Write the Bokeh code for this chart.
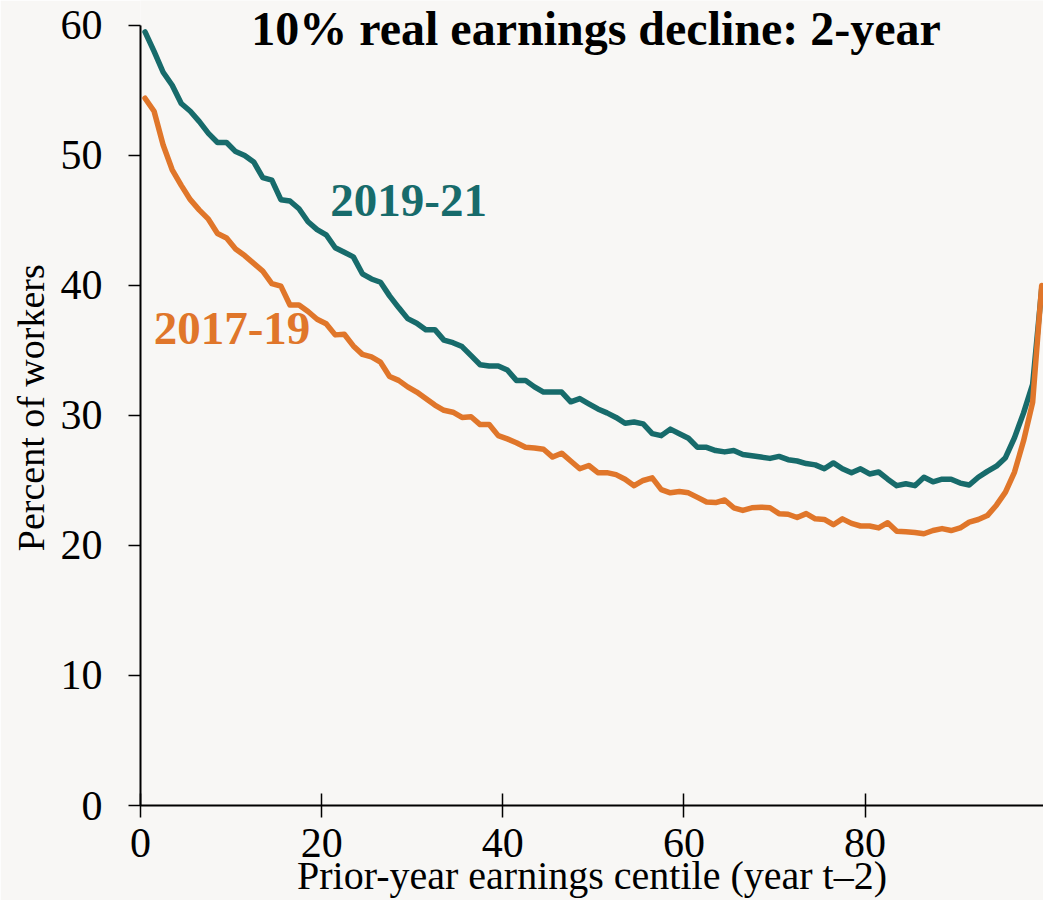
from bokeh.plotting import figure
from bokeh.models import Range1d, FixedTicker, Label
from bokeh.embed import file_html
from bokeh.resources import INLINE

# ---- data ----
centile_index = list(range(1, 101))
centiles = [c - 0.5 for c in centile_index]

series_2019_21 = [59.5, 58.0, 56.4, 55.4, 54.0, 53.4, 52.6, 51.7, 51.0, 51.0,
                  50.3, 50.0, 49.5, 48.3, 48.1, 46.6, 46.5, 45.9, 44.9, 44.3,
                  43.9, 42.9, 42.55, 42.2, 40.9, 40.5, 40.25, 39.2, 38.3, 37.45,
                  37.1, 36.6, 36.6, 35.8, 35.6, 35.3, 34.6, 33.9, 33.8, 33.8,
                  33.5, 32.7, 32.7, 32.2, 31.8, 31.8, 31.8, 31.05, 31.3, 30.9,
                  30.5, 30.2, 29.85, 29.4, 29.5, 29.35, 28.6, 28.45, 28.95, 28.6,
                  28.25, 27.55, 27.55, 27.3, 27.2, 27.3, 27.0, 26.9, 26.8, 26.7,
                  26.85, 26.6, 26.5, 26.3, 26.2, 25.9, 26.35, 25.9, 25.6, 25.9,
                  25.5, 25.65, 25.1, 24.6, 24.75, 24.6, 25.25, 24.9, 25.1, 25.1,
                  24.8, 24.65, 25.25, 25.7, 26.1, 26.75, 28.3, 30.2, 32.4, 39.75]

series_2017_19 = [54.4, 53.4, 50.8, 48.9, 47.7, 46.6, 45.8, 45.1, 44.0, 43.65,
                  42.8, 42.3, 41.7, 41.1, 40.15, 39.95, 38.5, 38.5, 38.0, 37.4,
                  37.05, 36.2, 36.25, 35.35, 34.7, 34.5, 34.1, 33.0, 32.7, 32.2,
                  31.8, 31.3, 30.8, 30.4, 30.25, 29.85, 29.9, 29.3, 29.3, 28.45,
                  28.2, 27.9, 27.55, 27.5, 27.4, 26.8, 27.1, 26.5, 25.9, 26.15,
                  25.6, 25.6, 25.45, 25.1, 24.6, 25.0, 25.2, 24.3, 24.05, 24.15,
                  24.05, 23.7, 23.35, 23.3, 23.5, 22.9, 22.7, 22.9, 22.95, 22.9,
                  22.45, 22.4, 22.15, 22.45, 22.05, 22.0, 21.6, 22.05, 21.7, 21.5,
                  21.5, 21.35, 21.75, 21.1, 21.05, 21.0, 20.9, 21.15, 21.3, 21.15,
                  21.35, 21.8, 22.0, 22.3, 23.1, 24.1, 25.65, 28.05, 31.0, 40.0]

x_ticks = [0, 20, 40, 60, 80]
y_ticks = [0, 10, 20, 30, 40, 50, 60]

title_text = "10% real earnings decline: 2-year"
x_label_text = "Prior-year earnings centile (year t\u20132)"
y_label_text = "Percent of  workers"
label_2019 = "2019-21"
label_2017 = "2017-19"

TEAL = "#176b6b"
ORANGE = "#e0762a"
BG = "#f8f7f5"
FONT = "Liberation Serif"

# frame spans the full top of the canvas so the title (inside the frame) is not clipped;
# 808 px of frame for 0..61.92 keeps 13.05 px per percentage point
p = figure(width=1043, height=900, output_backend="svg", toolbar_location=None,
           x_range=Range1d(0, 99.7), y_range=Range1d(0, 61.92),
           min_border_left=140, min_border_right=0, min_border_top=0,
           min_border_bottom=92)
p.background_fill_color = BG
p.border_fill_color = BG
p.outline_line_color = None
p.grid.visible = False

p.line(centiles, series_2019_21, line_color=TEAL, line_width=5.5,
       line_cap="round", line_join="round")
p.line(centiles, series_2017_19, line_color=ORANGE, line_width=5.5,
       line_cap="round", line_join="round")

for ax in (p.xaxis[0], p.yaxis[0]):
    ax.axis_line_color = "black"
    ax.axis_line_width = 2
    ax.major_tick_line_color = "black"
    ax.major_tick_line_width = 1.5
    ax.minor_tick_line_color = None
    ax.major_label_text_font = FONT
    ax.major_label_text_font_size = "42px"
    ax.major_label_text_color = "black"
    ax.axis_label_text_font = FONT
    ax.axis_label_text_font_style = "normal"
    ax.axis_label_text_color = "black"

p.xaxis[0].ticker = FixedTicker(ticks=x_ticks)
p.xaxis[0].major_tick_in = 12
p.xaxis[0].major_tick_out = 12
p.xaxis[0].major_label_standoff = 11
p.xaxis[0].axis_label = x_label_text
p.xaxis[0].axis_label_text_font_size = "40px"
p.xaxis[0].axis_label_standoff = -7

p.yaxis[0].ticker = FixedTicker(ticks=y_ticks)
p.yaxis[0].bounds = (0, 60)
p.yaxis[0].major_tick_in = 0
p.yaxis[0].major_tick_out = 12
p.yaxis[0].major_label_standoff = 26
p.yaxis[0].axis_label = y_label_text
p.yaxis[0].axis_label_text_font_size = "38px"
p.yaxis[0].axis_label_standoff = 6

p.add_layout(Label(x=50.3, y=59.8, text=title_text, text_font=FONT,
                   text_font_size="48px", text_font_style="bold",
                   text_color="black", text_align="center",
                   text_baseline="alphabetic"))
p.add_layout(Label(x=29.6, y=46.5, text=label_2019, text_font=FONT,
                   text_font_size="47px", text_font_style="bold",
                   text_color=TEAL, text_align="center",
                   text_baseline="alphabetic"))
p.add_layout(Label(x=10.1, y=36.7, text=label_2017, text_font=FONT,
                   text_font_size="47px", text_font_style="bold",
                   text_color=ORANGE, text_align="center",
                   text_baseline="alphabetic"))

open("out.html", "w").write(file_html(p, INLINE))
